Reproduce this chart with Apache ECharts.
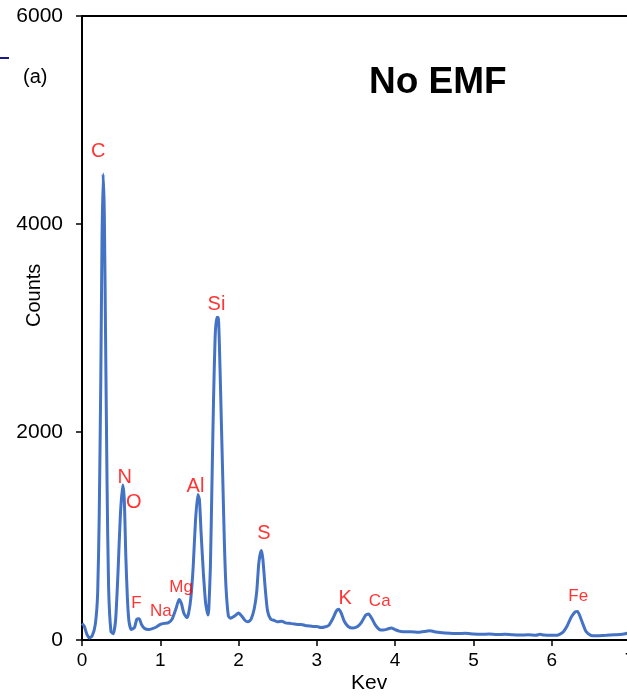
<!DOCTYPE html>
<html>
<head>
<meta charset="utf-8">
<script src="https://cdn.jsdelivr.net/npm/echarts@6/dist/echarts.min.js"></script>
<style>
  html, body { margin: 0; padding: 0; background: #fff; }
  #chart { width: 627px; height: 697px; }
</style>
</head>
<body>
<div id="chart"></div>
<script>
// spectrum: energy (keV) and counts
var kev = [0.00, 0.03, 0.06, 0.09, 0.13, 0.17, 0.20, 0.22, 0.24, 0.255, 0.27, 0.285, 0.30, 0.32, 0.34, 0.37,
  0.40, 0.43, 0.46, 0.49, 0.52, 0.54, 0.56, 0.58, 0.60, 0.63, 0.67, 0.70, 0.73, 0.76, 0.80, 0.85, 0.90, 0.95,
  1.00, 1.05, 1.10, 1.15, 1.20, 1.24, 1.27, 1.30, 1.34, 1.36, 1.39, 1.42, 1.45, 1.48, 1.50, 1.52, 1.55, 1.58,
  1.61, 1.62, 1.64, 1.66, 1.68, 1.70, 1.72, 1.74, 1.76, 1.78, 1.80, 1.82, 1.84, 1.87, 1.90, 1.95, 2.00, 2.04,
  2.08, 2.12, 2.16, 2.20, 2.23, 2.26, 2.29, 2.31, 2.34, 2.37, 2.41, 2.45, 2.50, 2.55, 2.60, 2.65, 2.70, 2.75,
  2.80, 2.85, 2.90, 2.95, 3.00, 3.05, 3.10, 3.15, 3.20, 3.25, 3.28, 3.31, 3.35, 3.40, 3.46, 3.52, 3.57, 3.62,
  3.66, 3.70, 3.75, 3.80, 3.85, 3.90, 3.95, 4.00, 4.05, 4.10, 4.20, 4.30, 4.40, 4.45, 4.50, 4.60, 4.70, 4.80,
  4.90, 5.00, 5.10, 5.20, 5.30, 5.40, 5.50, 5.60, 5.70, 5.80, 5.85, 5.90, 6.00, 6.05, 6.10, 6.15, 6.20, 6.25,
  6.30, 6.33, 6.36, 6.40, 6.44, 6.50, 6.55, 6.60, 6.70, 6.80, 6.90, 7.00];
var counts = [160, 130, 60, 20, 40, 150, 450, 1200, 2500, 3800, 4480, 4100, 3000, 1500, 500, 80,
  60, 200, 650, 1200, 1490, 1350, 800, 400, 180, 100, 120, 200, 205, 150, 110, 100, 110, 125,
  150, 160, 165, 200, 300, 390, 350, 260, 215, 250, 400, 700, 1150, 1400, 1350, 1050, 650, 350,
  240, 300, 700, 1500, 2300, 2900, 3100, 3100, 2700, 2100, 1500, 900, 500, 230, 210, 230, 260, 230,
  190, 175, 200, 300, 450, 750, 860, 780, 500, 280, 200, 190, 175, 180, 165, 160, 155, 150,
  150, 140, 135, 130, 130, 120, 125, 140, 200, 280, 295, 260, 180, 130, 115, 130, 170, 235,
  250, 210, 140, 100, 95, 105, 115, 100, 85, 80, 80, 75, 85, 90, 80, 70, 65, 62,
  65, 58, 55, 57, 52, 55, 50, 48, 50, 45, 55, 47, 45, 45, 55, 80, 140, 220,
  270, 275, 230, 150, 80, 45, 40, 42, 45, 50, 55, 70];

// element labels and where they sit (keV, counts)
var elements = ['C', 'N', 'O', 'F', 'Na', 'Mg', 'Al', 'Si', 'S', 'K', 'Ca', 'Fe'];
var elemKev = [0.207, 0.547, 0.661, 0.697, 1.006, 1.266, 1.449, 1.718, 2.324, 3.363, 3.803, 6.338];
var elemCounts = [4700, 1567, 1322, 349, 276, 509, 1480, 3224, 1024, 401, 374, 417];
var elemSmall = [false, false, false, true, true, true, false, false, false, false, true, true];

var xTicks = [0, 1, 2, 3, 4, 5, 6, 7];
var yTicks = [0, 2000, 4000, 6000];

var lineData = kev.map(function (k, i) { return [k, counts[i]]; });
var labelData = elements.map(function (e, i) {
  return {
    value: [elemKev[i], elemCounts[i]],
    name: e,
    label: { fontSize: elemSmall[i] ? 17 : 20 }
  };
});

var chart = echarts.init(document.getElementById('chart'));

var option = {
  animation: false,
  grid: { left: 82, top: 16, width: 548, height: 624, outerBoundsMode: 'none', containLabel: false },
  xAxis: [{
    type: 'value',
    min: xTicks[0],
    max: xTicks[xTicks.length - 1],
    interval: 1,
    axisLine: { lineStyle: { color: '#000', width: 2 } },
    axisTick: { length: 6, lineStyle: { color: '#000', width: 1.5 } },
    axisLabel: { color: '#000', fontSize: 19, margin: 11, fontFamily: 'Liberation Sans' },
    splitLine: { show: false }
  }, {
    type: 'value',
    position: 'top',
    min: 0,
    max: 7,
    axisLine: { show: true, lineStyle: { color: '#000', width: 2 } },
    axisTick: { show: false },
    axisLabel: { show: false },
    splitLine: { show: false }
  }],
  yAxis: {
    type: 'value',
    min: yTicks[0],
    max: yTicks[yTicks.length - 1],
    interval: 2000,
    axisLine: { show: true, lineStyle: { color: '#000', width: 2 } },
    axisTick: { show: true, length: 6, lineStyle: { color: '#000', width: 1.5 } },
    axisLabel: {
      color: '#000', fontSize: 21, margin: 19, fontFamily: 'Liberation Sans',
      formatter: function (v) { return String(v); }
    },
    splitLine: { show: false }
  },
  series: [{
    type: 'line',
    data: lineData,
    showSymbol: false,
    smooth: 0.2,
    lineStyle: { color: '#4472C4', width: 3 },
    z: 2
  }, {
    type: 'scatter',
    data: labelData,
    symbolSize: 0,
    label: {
      show: true,
      position: 'inside',
      formatter: '{b}',
      color: '#ff0000',
      fontFamily: 'Liberation Sans'
    },
    z: 3
  }],
  graphic: [
    { type: 'text', left: 369, top: 64, style: { text: 'No EMF', font: 'bold 37px "Liberation Sans"', fill: '#000' } },
    { type: 'text', left: 23, top: 67, style: { text: '(a)', font: '20px "Liberation Sans"', fill: '#000' } },
    { type: 'text', x: 24, y: 327, rotation: Math.PI / 2, style: { text: 'Counts', font: '20px "Liberation Sans"', fill: '#000' } },
    { type: 'text', left: 351, top: 673, style: { text: 'Kev', font: '21px "Liberation Sans"', fill: '#000' } },
    { type: 'line', shape: { x1: 0, y1: 58, x2: 9, y2: 58 }, style: { stroke: '#1a1a8c', lineWidth: 2 } }
  ]
};

chart.setOption(option);
</script>
</body>
</html>
